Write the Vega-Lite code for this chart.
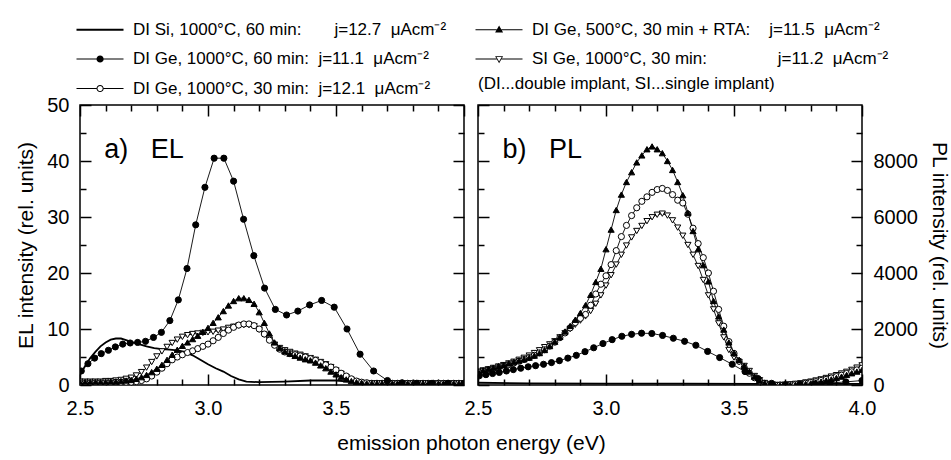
{
"$schema":"https://vega.github.io/schema/vega-lite/v6.json",
"padding":{"left":14,"top":20,"right":0,"bottom":0},
"bounds":"flush",
"config":{"font":"Liberation Sans","view":{"stroke":"black","strokeWidth":1.5},
"axis":{"domain":false,"grid":false,"tickColor":"black","tickWidth":1.5,"labelColor":"black","labelFontSize":20,"labelFont":"Liberation Sans","titleFont":"Liberation Sans","titleFontSize":21,"titleFontWeight":"normal","titleColor":"black","labelFlush":false,"labelOverlap":false},
"legend":{"labelFont":"Liberation Sans","labelColor":"black"}},
"datasets":{
"el":[
{"s":"a","x":2.5,"y":1.8},{"s":"a","x":2.52,"y":3.4},{"s":"a","x":2.54,"y":4.8},{"s":"a","x":2.56,"y":5.9},{"s":"a","x":2.58,"y":6.9},{"s":"a","x":2.6,"y":7.6},{"s":"a","x":2.62,"y":8.1},{"s":"a","x":2.64,"y":8.3},{"s":"a","x":2.66,"y":8.3},{"s":"a","x":2.68,"y":8.0},{"s":"a","x":2.7,"y":7.7},{"s":"a","x":2.73,"y":7.3},{"s":"a","x":2.76,"y":6.9},{"s":"a","x":2.79,"y":6.6},{"s":"a","x":2.82,"y":6.4},{"s":"a","x":2.85,"y":6.3},{"s":"a","x":2.88,"y":6.2},{"s":"a","x":2.91,"y":5.9},{"s":"a","x":2.94,"y":5.3},{"s":"a","x":2.97,"y":4.5},{"s":"a","x":3.0,"y":3.7},{"s":"a","x":3.03,"y":3.0},{"s":"a","x":3.06,"y":2.4},{"s":"a","x":3.09,"y":1.6},{"s":"a","x":3.12,"y":1.0},{"s":"a","x":3.15,"y":0.6},{"s":"a","x":3.2,"y":0.5},{"s":"a","x":3.3,"y":0.6},{"s":"a","x":3.4,"y":0.8},{"s":"a","x":3.5,"y":0.8},{"s":"a","x":3.55,"y":0.6},{"s":"a","x":3.6,"y":0.3},{"s":"a","x":3.7,"y":0.2},{"s":"a","x":3.85,"y":0.2},{"s":"a","x":4.0,"y":0.2},
{"s":"e","x":2.5,"y":0.6},{"s":"e","x":2.52,"y":0.6},{"s":"e","x":2.54,"y":0.6},{"s":"e","x":2.56,"y":0.6},{"s":"e","x":2.58,"y":0.6},{"s":"e","x":2.6,"y":0.7},{"s":"e","x":2.62,"y":0.7},{"s":"e","x":2.64,"y":0.8},{"s":"e","x":2.66,"y":0.9},{"s":"e","x":2.68,"y":1.1},
{"s":"e","x":2.7,"y":1.3},{"s":"e","x":2.72,"y":1.7},{"s":"e","x":2.74,"y":2.3},{"s":"e","x":2.76,"y":3.1},{"s":"e","x":2.78,"y":4.1},{"s":"e","x":2.8,"y":5.1},{"s":"e","x":2.82,"y":6.0},{"s":"e","x":2.84,"y":6.8},{"s":"e","x":2.86,"y":7.5},{"s":"e","x":2.88,"y":8.1},
{"s":"e","x":2.9,"y":8.6},{"s":"e","x":2.92,"y":8.9},{"s":"e","x":2.94,"y":9.1},{"s":"e","x":2.96,"y":9.2},{"s":"e","x":2.98,"y":9.3},{"s":"e","x":3.0,"y":9.4},{"s":"e","x":3.02,"y":9.5},{"s":"e","x":3.04,"y":9.7},{"s":"e","x":3.06,"y":9.9},{"s":"e","x":3.08,"y":10.2},
{"s":"e","x":3.1,"y":10.4},{"s":"e","x":3.12,"y":10.6},{"s":"e","x":3.14,"y":10.7},{"s":"e","x":3.16,"y":10.7},{"s":"e","x":3.18,"y":10.5},{"s":"e","x":3.2,"y":9.9},{"s":"e","x":3.22,"y":9.0},{"s":"e","x":3.24,"y":8.0},{"s":"e","x":3.26,"y":7.2},{"s":"e","x":3.28,"y":6.6},
{"s":"e","x":3.3,"y":6.2},{"s":"e","x":3.32,"y":5.9},{"s":"e","x":3.34,"y":5.6},{"s":"e","x":3.36,"y":5.4},{"s":"e","x":3.38,"y":5.1},{"s":"e","x":3.4,"y":4.8},{"s":"e","x":3.42,"y":4.5},{"s":"e","x":3.44,"y":4.1},{"s":"e","x":3.46,"y":3.7},{"s":"e","x":3.48,"y":3.2},
{"s":"e","x":3.5,"y":2.6},{"s":"e","x":3.52,"y":2.0},{"s":"e","x":3.54,"y":1.4},{"s":"e","x":3.56,"y":0.9},{"s":"e","x":3.58,"y":0.6},{"s":"e","x":3.6,"y":0.4},{"s":"e","x":3.62,"y":0.3},{"s":"e","x":3.64,"y":0.3},{"s":"e","x":3.66,"y":0.3},{"s":"e","x":3.68,"y":0.3},
{"s":"e","x":3.7,"y":0.3},{"s":"e","x":3.72,"y":0.3},{"s":"e","x":3.74,"y":0.3},{"s":"e","x":3.76,"y":0.3},{"s":"e","x":3.78,"y":0.3},{"s":"e","x":3.8,"y":0.3},{"s":"e","x":3.82,"y":0.3},{"s":"e","x":3.84,"y":0.3},{"s":"e","x":3.86,"y":0.3},{"s":"e","x":3.88,"y":0.3},{"s":"e","x":3.9,"y":0.3},{"s":"e","x":3.92,"y":0.3},{"s":"e","x":3.94,"y":0.3},{"s":"e","x":3.96,"y":0.3},{"s":"e","x":3.98,"y":0.3},{"s":"e","x":4.0,"y":0.3},
{"s":"c","x":2.5,"y":0.4},{"s":"c","x":2.52,"y":0.4},{"s":"c","x":2.54,"y":0.4},{"s":"c","x":2.56,"y":0.4},{"s":"c","x":2.58,"y":0.4},{"s":"c","x":2.6,"y":0.4},{"s":"c","x":2.62,"y":0.4},{"s":"c","x":2.64,"y":0.5},{"s":"c","x":2.66,"y":0.5},{"s":"c","x":2.68,"y":0.5},
{"s":"c","x":2.7,"y":0.5},{"s":"c","x":2.72,"y":0.6},{"s":"c","x":2.74,"y":0.8},{"s":"c","x":2.76,"y":1.1},{"s":"c","x":2.78,"y":1.6},{"s":"c","x":2.8,"y":2.3},{"s":"c","x":2.82,"y":3.0},{"s":"c","x":2.84,"y":3.8},{"s":"c","x":2.86,"y":4.5},{"s":"c","x":2.88,"y":5.0},
{"s":"c","x":2.9,"y":5.4},{"s":"c","x":2.92,"y":5.8},{"s":"c","x":2.94,"y":6.1},{"s":"c","x":2.96,"y":6.5},{"s":"c","x":2.98,"y":6.9},{"s":"c","x":3.0,"y":7.3},{"s":"c","x":3.02,"y":7.9},{"s":"c","x":3.04,"y":8.5},{"s":"c","x":3.06,"y":9.2},{"s":"c","x":3.08,"y":9.8},
{"s":"c","x":3.1,"y":10.3},{"s":"c","x":3.12,"y":10.7},{"s":"c","x":3.14,"y":10.9},{"s":"c","x":3.16,"y":10.9},{"s":"c","x":3.18,"y":10.6},{"s":"c","x":3.2,"y":10.0},{"s":"c","x":3.22,"y":9.1},{"s":"c","x":3.24,"y":8.0},{"s":"c","x":3.26,"y":7.1},{"s":"c","x":3.28,"y":6.4},
{"s":"c","x":3.3,"y":5.9},{"s":"c","x":3.32,"y":5.6},{"s":"c","x":3.34,"y":5.4},{"s":"c","x":3.36,"y":5.2},{"s":"c","x":3.38,"y":5.0},{"s":"c","x":3.4,"y":4.7},{"s":"c","x":3.42,"y":4.4},{"s":"c","x":3.44,"y":4.0},{"s":"c","x":3.46,"y":3.6},{"s":"c","x":3.48,"y":3.2},
{"s":"c","x":3.5,"y":2.7},{"s":"c","x":3.52,"y":2.1},{"s":"c","x":3.54,"y":1.6},{"s":"c","x":3.56,"y":1.1},{"s":"c","x":3.58,"y":0.7},{"s":"c","x":3.6,"y":0.5},{"s":"c","x":3.62,"y":0.4},{"s":"c","x":3.64,"y":0.3},{"s":"c","x":3.66,"y":0.3},{"s":"c","x":3.68,"y":0.3},
{"s":"c","x":3.7,"y":0.3},{"s":"c","x":3.72,"y":0.3},{"s":"c","x":3.74,"y":0.3},{"s":"c","x":3.76,"y":0.3},{"s":"c","x":3.78,"y":0.3},{"s":"c","x":3.8,"y":0.3},{"s":"c","x":3.82,"y":0.3},{"s":"c","x":3.84,"y":0.3},{"s":"c","x":3.86,"y":0.3},{"s":"c","x":3.88,"y":0.3},{"s":"c","x":3.9,"y":0.3},{"s":"c","x":3.92,"y":0.3},{"s":"c","x":3.94,"y":0.3},{"s":"c","x":3.96,"y":0.3},{"s":"c","x":3.98,"y":0.3},{"s":"c","x":4.0,"y":0.3},
{"s":"d","x":2.5,"y":0.5},{"s":"d","x":2.52,"y":0.5},{"s":"d","x":2.54,"y":0.5},{"s":"d","x":2.56,"y":0.5},{"s":"d","x":2.58,"y":0.5},{"s":"d","x":2.6,"y":0.5},{"s":"d","x":2.62,"y":0.6},{"s":"d","x":2.64,"y":0.6},{"s":"d","x":2.66,"y":0.7},{"s":"d","x":2.68,"y":0.8},
{"s":"d","x":2.7,"y":0.9},{"s":"d","x":2.72,"y":1.1},{"s":"d","x":2.74,"y":1.4},{"s":"d","x":2.76,"y":1.8},{"s":"d","x":2.78,"y":2.3},{"s":"d","x":2.8,"y":2.9},{"s":"d","x":2.82,"y":3.6},{"s":"d","x":2.84,"y":4.5},{"s":"d","x":2.86,"y":5.4},{"s":"d","x":2.88,"y":6.3},
{"s":"d","x":2.9,"y":7.0},{"s":"d","x":2.92,"y":7.6},{"s":"d","x":2.94,"y":8.2},{"s":"d","x":2.96,"y":8.8},{"s":"d","x":2.98,"y":9.5},{"s":"d","x":3.0,"y":10.2},{"s":"d","x":3.02,"y":11.1},{"s":"d","x":3.04,"y":12.1},{"s":"d","x":3.06,"y":13.2},{"s":"d","x":3.08,"y":14.2},
{"s":"d","x":3.1,"y":15.0},{"s":"d","x":3.12,"y":15.5},{"s":"d","x":3.14,"y":15.5},{"s":"d","x":3.16,"y":15.2},{"s":"d","x":3.18,"y":14.5},{"s":"d","x":3.2,"y":13.0},{"s":"d","x":3.22,"y":11.1},{"s":"d","x":3.24,"y":9.2},{"s":"d","x":3.26,"y":7.6},{"s":"d","x":3.28,"y":6.6},
{"s":"d","x":3.3,"y":6.0},{"s":"d","x":3.32,"y":5.6},{"s":"d","x":3.34,"y":5.2},{"s":"d","x":3.36,"y":4.9},{"s":"d","x":3.38,"y":4.6},{"s":"d","x":3.4,"y":4.4},{"s":"d","x":3.42,"y":4.0},{"s":"d","x":3.44,"y":3.5},{"s":"d","x":3.46,"y":3.0},{"s":"d","x":3.48,"y":2.4},
{"s":"d","x":3.5,"y":1.9},{"s":"d","x":3.52,"y":1.4},{"s":"d","x":3.54,"y":1.0},{"s":"d","x":3.56,"y":0.7},{"s":"d","x":3.58,"y":0.5},{"s":"d","x":3.6,"y":0.4},{"s":"d","x":3.62,"y":0.3},{"s":"d","x":3.64,"y":0.3},{"s":"d","x":3.66,"y":0.3},{"s":"d","x":3.68,"y":0.3},
{"s":"d","x":3.7,"y":0.3},{"s":"d","x":3.72,"y":0.3},{"s":"d","x":3.74,"y":0.3},{"s":"d","x":3.76,"y":0.3},{"s":"d","x":3.78,"y":0.3},{"s":"d","x":3.8,"y":0.3},{"s":"d","x":3.82,"y":0.3},{"s":"d","x":3.84,"y":0.3},{"s":"d","x":3.86,"y":0.3},{"s":"d","x":3.88,"y":0.3},{"s":"d","x":3.9,"y":0.3},{"s":"d","x":3.92,"y":0.3},{"s":"d","x":3.94,"y":0.3},{"s":"d","x":3.96,"y":0.3},{"s":"d","x":3.98,"y":0.3},{"s":"d","x":4.0,"y":0.3},
{"s":"b","x":2.505,"y":2.5},{"s":"b","x":2.531,"y":3.8},{"s":"b","x":2.557,"y":4.8},{"s":"b","x":2.583,"y":5.6},{"s":"b","x":2.611,"y":6.2},{"s":"b","x":2.638,"y":6.8},{"s":"b","x":2.667,"y":7.3},{"s":"b","x":2.696,"y":7.5},{"s":"b","x":2.725,"y":7.6},{"s":"b","x":2.756,"y":7.8},{"s":"b","x":2.787,"y":8.5},{"s":"b","x":2.818,"y":9.4},{"s":"b","x":2.851,"y":11.5},{"s":"b","x":2.884,"y":15.2},{"s":"b","x":2.918,"y":20.8},{"s":"b","x":2.952,"y":28.6},{"s":"b","x":2.988,"y":35.3},{"s":"b","x":3.024,"y":40.5},{"s":"b","x":3.062,"y":40.5},{"s":"b","x":3.1,"y":36.4},{"s":"b","x":3.139,"y":29.6},{"s":"b","x":3.179,"y":23.1},{"s":"b","x":3.221,"y":17.3},{"s":"b","x":3.263,"y":13.5},{"s":"b","x":3.307,"y":12.5},{"s":"b","x":3.351,"y":13.2},{"s":"b","x":3.397,"y":14.3},{"s":"b","x":3.444,"y":15.1},{"s":"b","x":3.493,"y":13.9},{"s":"b","x":3.543,"y":10.0},{"s":"b","x":3.594,"y":5.5},{"s":"b","x":3.647,"y":2.5},{"s":"b","x":3.701,"y":0.8},{"s":"b","x":3.758,"y":0.4},{"s":"b","x":3.815,"y":0.3},{"s":"b","x":3.875,"y":0.3},{"s":"b","x":3.937,"y":0.3},{"s":"b","x":4.0,"y":0.3}
],
"pl":[
{"s":"a","x":2.5,"y":80},{"s":"a","x":2.7,"y":60},{"s":"a","x":3.0,"y":50},{"s":"a","x":3.3,"y":50},{"s":"a","x":3.6,"y":40},{"s":"a","x":4.0,"y":40},
{"s":"e","x":2.5,"y":480},{"s":"e","x":2.52,"y":520},{"s":"e","x":2.54,"y":560},{"s":"e","x":2.56,"y":610},{"s":"e","x":2.58,"y":660},{"s":"e","x":2.6,"y":710},{"s":"e","x":2.62,"y":770},{"s":"e","x":2.64,"y":830},{"s":"e","x":2.66,"y":900},{"s":"e","x":2.68,"y":970},
{"s":"e","x":2.7,"y":1050},{"s":"e","x":2.72,"y":1140},{"s":"e","x":2.74,"y":1240},{"s":"e","x":2.76,"y":1350},{"s":"e","x":2.78,"y":1450},{"s":"e","x":2.8,"y":1560},{"s":"e","x":2.82,"y":1700},{"s":"e","x":2.84,"y":1850},{"s":"e","x":2.86,"y":2000},{"s":"e","x":2.88,"y":2150},
{"s":"e","x":2.9,"y":2300},{"s":"e","x":2.92,"y":2450},{"s":"e","x":2.94,"y":2640},{"s":"e","x":2.96,"y":2900},{"s":"e","x":2.98,"y":3200},{"s":"e","x":3.0,"y":3550},{"s":"e","x":3.02,"y":3920},{"s":"e","x":3.04,"y":4300},{"s":"e","x":3.06,"y":4650},{"s":"e","x":3.08,"y":4980},
{"s":"e","x":3.1,"y":5270},{"s":"e","x":3.12,"y":5500},{"s":"e","x":3.14,"y":5680},{"s":"e","x":3.16,"y":5850},{"s":"e","x":3.18,"y":5990},{"s":"e","x":3.2,"y":6080},{"s":"e","x":3.22,"y":6120},{"s":"e","x":3.24,"y":6050},{"s":"e","x":3.26,"y":5880},{"s":"e","x":3.28,"y":5620},
{"s":"e","x":3.3,"y":5330},{"s":"e","x":3.32,"y":5000},{"s":"e","x":3.34,"y":4650},{"s":"e","x":3.36,"y":4250},{"s":"e","x":3.38,"y":3750},{"s":"e","x":3.4,"y":3200},{"s":"e","x":3.42,"y":2700},{"s":"e","x":3.44,"y":2200},{"s":"e","x":3.46,"y":1700},{"s":"e","x":3.48,"y":1250},
{"s":"e","x":3.5,"y":980},{"s":"e","x":3.52,"y":820},{"s":"e","x":3.54,"y":680},{"s":"e","x":3.56,"y":500},{"s":"e","x":3.58,"y":320},{"s":"e","x":3.6,"y":170},{"s":"e","x":3.62,"y":70},{"s":"e","x":3.64,"y":20},{"s":"e","x":3.66,"y":0},{"s":"e","x":3.68,"y":0},
{"s":"e","x":3.7,"y":10},{"s":"e","x":3.72,"y":20},{"s":"e","x":3.74,"y":40},{"s":"e","x":3.76,"y":60},{"s":"e","x":3.78,"y":90},{"s":"e","x":3.8,"y":120},{"s":"e","x":3.82,"y":160},{"s":"e","x":3.84,"y":200},{"s":"e","x":3.86,"y":250},{"s":"e","x":3.88,"y":300},{"s":"e","x":3.9,"y":350},{"s":"e","x":3.92,"y":410},{"s":"e","x":3.94,"y":470},{"s":"e","x":3.96,"y":540},{"s":"e","x":3.98,"y":620},{"s":"e","x":4.0,"y":700},
{"s":"c","x":2.5,"y":450},{"s":"c","x":2.52,"y":490},{"s":"c","x":2.54,"y":530},{"s":"c","x":2.56,"y":580},{"s":"c","x":2.58,"y":630},{"s":"c","x":2.6,"y":680},{"s":"c","x":2.62,"y":730},{"s":"c","x":2.64,"y":790},{"s":"c","x":2.66,"y":850},{"s":"c","x":2.68,"y":910},
{"s":"c","x":2.7,"y":980},{"s":"c","x":2.72,"y":1060},{"s":"c","x":2.74,"y":1150},{"s":"c","x":2.76,"y":1260},{"s":"c","x":2.78,"y":1390},{"s":"c","x":2.8,"y":1530},{"s":"c","x":2.82,"y":1690},{"s":"c","x":2.84,"y":1860},{"s":"c","x":2.86,"y":2040},{"s":"c","x":2.88,"y":2230},
{"s":"c","x":2.9,"y":2380},{"s":"c","x":2.92,"y":2520},{"s":"c","x":2.94,"y":2850},{"s":"c","x":2.96,"y":3250},{"s":"c","x":2.98,"y":3600},{"s":"c","x":3.0,"y":3900},{"s":"c","x":3.02,"y":4300},{"s":"c","x":3.04,"y":4800},{"s":"c","x":3.06,"y":5300},{"s":"c","x":3.08,"y":5700},
{"s":"c","x":3.1,"y":6050},{"s":"c","x":3.12,"y":6330},{"s":"c","x":3.14,"y":6560},{"s":"c","x":3.16,"y":6720},{"s":"c","x":3.18,"y":6880},{"s":"c","x":3.2,"y":6980},{"s":"c","x":3.22,"y":7020},{"s":"c","x":3.24,"y":6950},{"s":"c","x":3.26,"y":6800},{"s":"c","x":3.28,"y":6600},
{"s":"c","x":3.3,"y":6500},{"s":"c","x":3.32,"y":6100},{"s":"c","x":3.34,"y":5600},{"s":"c","x":3.36,"y":5050},{"s":"c","x":3.38,"y":4550},{"s":"c","x":3.4,"y":4000},{"s":"c","x":3.42,"y":3350},{"s":"c","x":3.44,"y":2700},{"s":"c","x":3.46,"y":2100},{"s":"c","x":3.48,"y":1550},
{"s":"c","x":3.5,"y":1130},{"s":"c","x":3.52,"y":850},{"s":"c","x":3.54,"y":620},{"s":"c","x":3.56,"y":420},{"s":"c","x":3.58,"y":260},{"s":"c","x":3.6,"y":140},{"s":"c","x":3.62,"y":60},{"s":"c","x":3.64,"y":20},{"s":"c","x":3.66,"y":0},{"s":"c","x":3.68,"y":0},
{"s":"c","x":3.7,"y":0},{"s":"c","x":3.72,"y":10},{"s":"c","x":3.74,"y":20},{"s":"c","x":3.76,"y":40},{"s":"c","x":3.78,"y":60},{"s":"c","x":3.8,"y":90},{"s":"c","x":3.82,"y":120},{"s":"c","x":3.84,"y":160},{"s":"c","x":3.86,"y":200},{"s":"c","x":3.88,"y":250},{"s":"c","x":3.9,"y":300},{"s":"c","x":3.92,"y":350},{"s":"c","x":3.94,"y":410},{"s":"c","x":3.96,"y":470},{"s":"c","x":3.98,"y":540},{"s":"c","x":4.0,"y":600},
{"s":"d","x":2.5,"y":480},{"s":"d","x":2.52,"y":520},{"s":"d","x":2.54,"y":570},{"s":"d","x":2.56,"y":620},{"s":"d","x":2.58,"y":670},{"s":"d","x":2.6,"y":720},{"s":"d","x":2.62,"y":770},{"s":"d","x":2.64,"y":820},{"s":"d","x":2.66,"y":870},{"s":"d","x":2.68,"y":920},
{"s":"d","x":2.7,"y":980},{"s":"d","x":2.72,"y":1050},{"s":"d","x":2.74,"y":1140},{"s":"d","x":2.76,"y":1250},{"s":"d","x":2.78,"y":1390},{"s":"d","x":2.8,"y":1550},{"s":"d","x":2.82,"y":1720},{"s":"d","x":2.84,"y":1910},{"s":"d","x":2.86,"y":2110},{"s":"d","x":2.88,"y":2330},
{"s":"d","x":2.9,"y":2570},{"s":"d","x":2.92,"y":2850},{"s":"d","x":2.94,"y":3220},{"s":"d","x":2.96,"y":3680},{"s":"d","x":2.98,"y":4150},{"s":"d","x":3.0,"y":4850},{"s":"d","x":3.02,"y":5550},{"s":"d","x":3.04,"y":6250},{"s":"d","x":3.06,"y":6800},{"s":"d","x":3.08,"y":7250},
{"s":"d","x":3.1,"y":7600},{"s":"d","x":3.12,"y":7950},{"s":"d","x":3.14,"y":8200},{"s":"d","x":3.16,"y":8420},{"s":"d","x":3.18,"y":8520},{"s":"d","x":3.2,"y":8420},{"s":"d","x":3.22,"y":8280},{"s":"d","x":3.24,"y":8000},{"s":"d","x":3.26,"y":7680},{"s":"d","x":3.28,"y":7250},
{"s":"d","x":3.3,"y":6780},{"s":"d","x":3.32,"y":6150},{"s":"d","x":3.34,"y":5500},{"s":"d","x":3.36,"y":4850},{"s":"d","x":3.38,"y":4280},{"s":"d","x":3.4,"y":3700},{"s":"d","x":3.42,"y":3000},{"s":"d","x":3.44,"y":2450},{"s":"d","x":3.46,"y":1980},{"s":"d","x":3.48,"y":1520},
{"s":"d","x":3.5,"y":1150},{"s":"d","x":3.52,"y":900},{"s":"d","x":3.54,"y":680},{"s":"d","x":3.56,"y":480},{"s":"d","x":3.58,"y":300},{"s":"d","x":3.6,"y":160},{"s":"d","x":3.62,"y":70},{"s":"d","x":3.64,"y":25},{"s":"d","x":3.66,"y":5},{"s":"d","x":3.68,"y":0},
{"s":"d","x":3.7,"y":0},{"s":"d","x":3.72,"y":0},{"s":"d","x":3.74,"y":10},{"s":"d","x":3.76,"y":20},{"s":"d","x":3.78,"y":40},{"s":"d","x":3.8,"y":60},{"s":"d","x":3.82,"y":90},{"s":"d","x":3.84,"y":120},{"s":"d","x":3.86,"y":160},{"s":"d","x":3.88,"y":200},{"s":"d","x":3.9,"y":250},{"s":"d","x":3.92,"y":300},{"s":"d","x":3.94,"y":360},{"s":"d","x":3.96,"y":420},{"s":"d","x":3.98,"y":480},{"s":"d","x":4.0,"y":540},
{"s":"b","x":2.505,"y":330},{"s":"b","x":2.531,"y":370},{"s":"b","x":2.557,"y":410},{"s":"b","x":2.583,"y":450},{"s":"b","x":2.611,"y":500},{"s":"b","x":2.638,"y":550},{"s":"b","x":2.667,"y":600},{"s":"b","x":2.696,"y":650},{"s":"b","x":2.725,"y":690},{"s":"b","x":2.756,"y":740},{"s":"b","x":2.787,"y":800},{"s":"b","x":2.818,"y":870},{"s":"b","x":2.851,"y":960},{"s":"b","x":2.884,"y":1060},{"s":"b","x":2.918,"y":1190},{"s":"b","x":2.952,"y":1330},{"s":"b","x":2.988,"y":1480},{"s":"b","x":3.024,"y":1620},{"s":"b","x":3.062,"y":1740},{"s":"b","x":3.1,"y":1810},{"s":"b","x":3.139,"y":1850},{"s":"b","x":3.179,"y":1840},{"s":"b","x":3.221,"y":1770},{"s":"b","x":3.263,"y":1670},{"s":"b","x":3.307,"y":1560},{"s":"b","x":3.351,"y":1420},{"s":"b","x":3.397,"y":1200},{"s":"b","x":3.444,"y":980},{"s":"b","x":3.493,"y":740},{"s":"b","x":3.543,"y":480},{"s":"b","x":3.594,"y":230},{"s":"b","x":3.647,"y":60},{"s":"b","x":3.701,"y":10},{"s":"b","x":3.758,"y":20},{"s":"b","x":3.815,"y":40},{"s":"b","x":3.875,"y":70},{"s":"b","x":3.937,"y":110},{"s":"b","x":4.0,"y":160}
]
},
"spacing":14,
"resolve":{"scale":{"shape":"independent","fill":"independent"},"legend":{"shape":"independent","fill":"independent"}},
"hconcat":[
{
"width":384,"height":280,
"resolve":{"axis":{"x":"independent","y":"independent"},"scale":{"shape":"independent"},"legend":{"shape":"independent"}},
"layer":[
{"data":{"name":"el"},
"mark":{"type":"line","color":"black","clip":true},
"encoding":{
"x":{"field":"x","type":"quantitative","scale":{"domain":[2.5,4],"nice":false,"zero":false},"axis":{"orient":"bottom","values":[2.5,3,3.5],"format":".1f","tickSize":-11,"labelPadding":24,"title":"emission photon energy (eV)","titleX":391,"titleY":58,"titleAlign":"center","titleBaseline":"middle"}},
"y":{"field":"y","type":"quantitative","scale":{"domain":[0,50],"nice":false,"zero":false},"axis":{"orient":"left","values":[0,10,20,30,40,50],"tickSize":-11,"labelPadding":22,"title":"EL intensity (rel. units)","titleX":-54,"titleY":140,"titleAlign":"center","titleBaseline":"middle","titleAngle":-90}},
"detail":{"field":"s","type":"nominal"},
"strokeWidth":{"condition":{"test":"datum.s === 'a'","value":1.8},"value":0.9}}},
{"data":{"name":"el"},
"transform":[{"filter":"datum.s !== 'a'"}],
"mark":{"type":"point","stroke":"black","strokeWidth":1,"opacity":1,"fillOpacity":1,"size":38,"clip":true},
"encoding":{
"x":{"field":"x","type":"quantitative","scale":{"domain":[2.5,4],"nice":false,"zero":false},"axis":{"orient":"bottom","values":[2.6,2.7,2.8,2.9,3.1,3.2,3.3,3.4,3.6,3.7,3.8,3.9],"tickSize":-6,"labels":false,"title":null}},
"y":{"field":"y","type":"quantitative","scale":{"domain":[0,50],"nice":false,"zero":false},"axis":{"orient":"left","values":[5,15,25,35,45],"tickSize":-6,"labels":false,"title":null}},
"shape":{"field":"s","type":"nominal","scale":{"domain":["b","c","d","e"],"range":["circle","circle","triangle-up","triangle-down"]},"legend":null},
"fill":{"field":"s","type":"nominal","scale":{"domain":["b","c","d","e"],"range":["black","white","black","white"]},"legend":null}}},
{"data":{"values":[{"x":2.595,"y":42,"t":"a)\u00a0\u00a0\u00a0EL"}]},
"mark":{"type":"text","align":"left","baseline":"middle","fontSize":27,"color":"black"},
"encoding":{
"x":{"field":"x","type":"quantitative","scale":{"domain":[2.5,4],"nice":false,"zero":false},"axis":{"orient":"top","values":[2.5,3,3.5,4],"tickSize":-11,"labels":false,"title":null}},
"y":{"field":"y","type":"quantitative","scale":{"domain":[0,50],"nice":false,"zero":false},"axis":{"orient":"right","values":[0,10,20,30,40,50],"tickSize":-11,"labels":false,"title":null}},
"text":{"field":"t"}}},
{"data":{"values":[{"x":2.595,"y":42,"s":"a"},{"x":2.595,"y":42,"s":"d"},{"x":2.595,"y":42,"s":"b"},{"x":2.595,"y":42,"s":"e"},{"x":2.595,"y":42,"s":"c"}]},
"mark":{"type":"point","filled":true,"color":"black","opacity":0},
"encoding":{
"x":{"field":"x","type":"quantitative","scale":{"domain":[2.5,4],"nice":false,"zero":false},"axis":{"orient":"top","values":[2.6,2.7,2.8,2.9,3.1,3.2,3.3,3.4,3.6,3.7,3.8,3.9],"tickSize":-6,"labels":false,"title":null}},
"y":{"field":"y","type":"quantitative","scale":{"domain":[0,50],"nice":false,"zero":false},"axis":{"orient":"right","values":[5,15,25,35,45],"tickSize":-6,"labels":false,"title":null}},
"shape":{"field":"s","type":"nominal","scale":{"domain":["a","d","b","e","c"],"range":[
"M-3,-0.25H8.75V0.25H-3Z",
"M-3,-0.125H2.3V0.125H-3ZM3.5,-0.125H8.75V0.125H3.5ZM2.9,-1.05L3.9,0.7L1.9,0.7Z",
"M-3,-0.125H2.05V0.125H-3ZM3.75,-0.125H8.75V0.125H3.75ZM3.8,0A0.9,0.9,0,1,1,2,0A0.9,0.9,0,1,1,3.8,0Z",
"M-3,-0.125H2.3V0.125H-3ZM3.5,-0.125H8.75V0.125H3.5ZM2.9,1.05L3.9,-0.7L1.9,-0.7ZM2.9,0.64L2.25,-0.5L3.55,-0.5Z",
"M-3,-0.125H2V0.125H-3ZM3.8,-0.125H8.75V0.125H3.8ZM3.8,0A0.9,0.9,0,1,1,2,0A0.9,0.9,0,1,1,3.8,0ZM3.55,0A0.65,0.65,0,1,0,2.25,0A0.65,0.65,0,1,0,3.55,0Z"]},
"legend":{"orient":"top","direction":"horizontal","columns":2,"title":null,"columnPadding":28,"rowPadding":11.5,"padding":0,"offset":7,"labelFontSize":17,"labelOffset":36,"labelLimit":1000,"symbolSize":64,"symbolOpacity":1,"symbolFillColor":"black","symbolStrokeColor":"black","symbolStrokeWidth":0,
"labelExpr":"datum.value === 'a' ? 'DI Si, 1000°C, 60 min:\u00a0\u00a0\u00a0\u00a0\u00a0\u00a0\u00a0j=12.7\u00a0\u00a0μAcm\u207b\u00b2' : datum.value === 'b' ? 'DI Ge, 1000°C, 60 min:\u00a0\u00a0j=11.1\u00a0\u00a0μAcm\u207b\u00b2' : datum.value === 'c' ? 'DI Ge, 1000°C, 30 min:\u00a0\u00a0j=12.1\u00a0\u00a0μAcm\u207b\u00b2' : datum.value === 'd' ? 'DI Ge, 500°C, 30 min + RTA:\u00a0\u00a0\u00a0\u00a0j=11.5\u00a0\u00a0μAcm\u207b\u00b2' : 'SI Ge, 1000°C, 30 min:\u00a0\u00a0\u00a0\u00a0\u00a0\u00a0\u00a0\u00a0\u00a0\u00a0\u00a0\u00a0\u00a0\u00a0\u00a0j=11.2\u00a0\u00a0μAcm\u207b\u00b2'"}}}}
]
},
{
"width":384,"height":280,
"resolve":{"axis":{"x":"independent","y":"independent"}},
"layer":[
{"data":{"name":"pl"},
"mark":{"type":"line","color":"black","clip":true},
"encoding":{
"x":{"field":"x","type":"quantitative","scale":{"domain":[2.5,4],"nice":false,"zero":false},"axis":{"orient":"bottom","values":[2.5,3,3.5,4],"format":".1f","tickSize":-11,"labelPadding":24,"title":null}},
"y":{"field":"y","type":"quantitative","scale":{"domain":[0,10000],"nice":false,"zero":false},"axis":{"orient":"right","values":[0,2000,4000,6000,8000],"format":"d","tickSize":-11,"labelPadding":22,"title":"PL intensity (rel. units)","titleX":76,"titleY":140,"titleAlign":"center","titleBaseline":"middle","titleAngle":90}},
"detail":{"field":"s","type":"nominal"},
"strokeWidth":{"condition":{"test":"datum.s === 'a'","value":1.8},"value":0.9}}},
{"data":{"name":"pl"},
"transform":[{"filter":"datum.s !== 'a'"}],
"mark":{"type":"point","stroke":"black","strokeWidth":1,"opacity":1,"fillOpacity":1,"size":38,"clip":true},
"encoding":{
"x":{"field":"x","type":"quantitative","scale":{"domain":[2.5,4],"nice":false,"zero":false},"axis":{"orient":"bottom","values":[2.6,2.7,2.8,2.9,3.1,3.2,3.3,3.4,3.6,3.7,3.8,3.9],"tickSize":-6,"labels":false,"title":null}},
"y":{"field":"y","type":"quantitative","scale":{"domain":[0,10000],"nice":false,"zero":false},"axis":{"orient":"right","values":[1000,3000,5000,7000,9000],"tickSize":-6,"labels":false,"title":null}},
"shape":{"field":"s","type":"nominal","scale":{"domain":["b","c","d","e"],"range":["circle","circle","triangle-up","triangle-down"]},"legend":null},
"fill":{"field":"s","type":"nominal","scale":{"domain":["b","c","d","e"],"range":["black","white","black","white"]},"legend":null}}},
{"data":{"values":[{"x":2.596,"y":8393,"t":"b)\u00a0\u00a0\u00a0PL"}]},
"mark":{"type":"text","align":"left","baseline":"middle","fontSize":27,"color":"black"},
"encoding":{
"x":{"field":"x","type":"quantitative","scale":{"domain":[2.5,4],"nice":false,"zero":false},"axis":{"orient":"top","values":[2.5,3,3.5,4],"tickSize":-11,"labels":false,"title":null}},
"y":{"field":"y","type":"quantitative","scale":{"domain":[0,10000],"nice":false,"zero":false},"axis":{"orient":"left","values":[0,2000,4000,6000,8000,10000],"tickSize":-11,"labels":false,"title":null}},
"text":{"field":"t"}}},
{"data":{"values":[{"x":2.596,"y":8393}]},
"mark":{"type":"point","opacity":0},
"encoding":{
"x":{"field":"x","type":"quantitative","scale":{"domain":[2.5,4],"nice":false,"zero":false},"axis":{"orient":"top","values":[2.6,2.7,2.8,2.9,3.1,3.2,3.3,3.4,3.6,3.7,3.8,3.9],"tickSize":-6,"labels":false,"title":null}},
"y":{"field":"y","type":"quantitative","scale":{"domain":[0,10000],"nice":false,"zero":false},"axis":{"orient":"left","values":[1000,3000,5000,7000,9000],"tickSize":-6,"labels":false,"title":null}}}},
{"data":{"values":[{"x":2.5,"y":10750,"t":"(DI...double implant, SI...single implant)"}]},
"mark":{"type":"text","align":"left","baseline":"middle","fontSize":17,"color":"black","clip":false},
"encoding":{
"x":{"field":"x","type":"quantitative","scale":{"domain":[2.5,4],"nice":false,"zero":false},"axis":null},
"y":{"field":"y","type":"quantitative","scale":{"domain":[0,10000],"nice":false,"zero":false},"axis":null},
"text":{"field":"t"}}}
]
}
]
}
